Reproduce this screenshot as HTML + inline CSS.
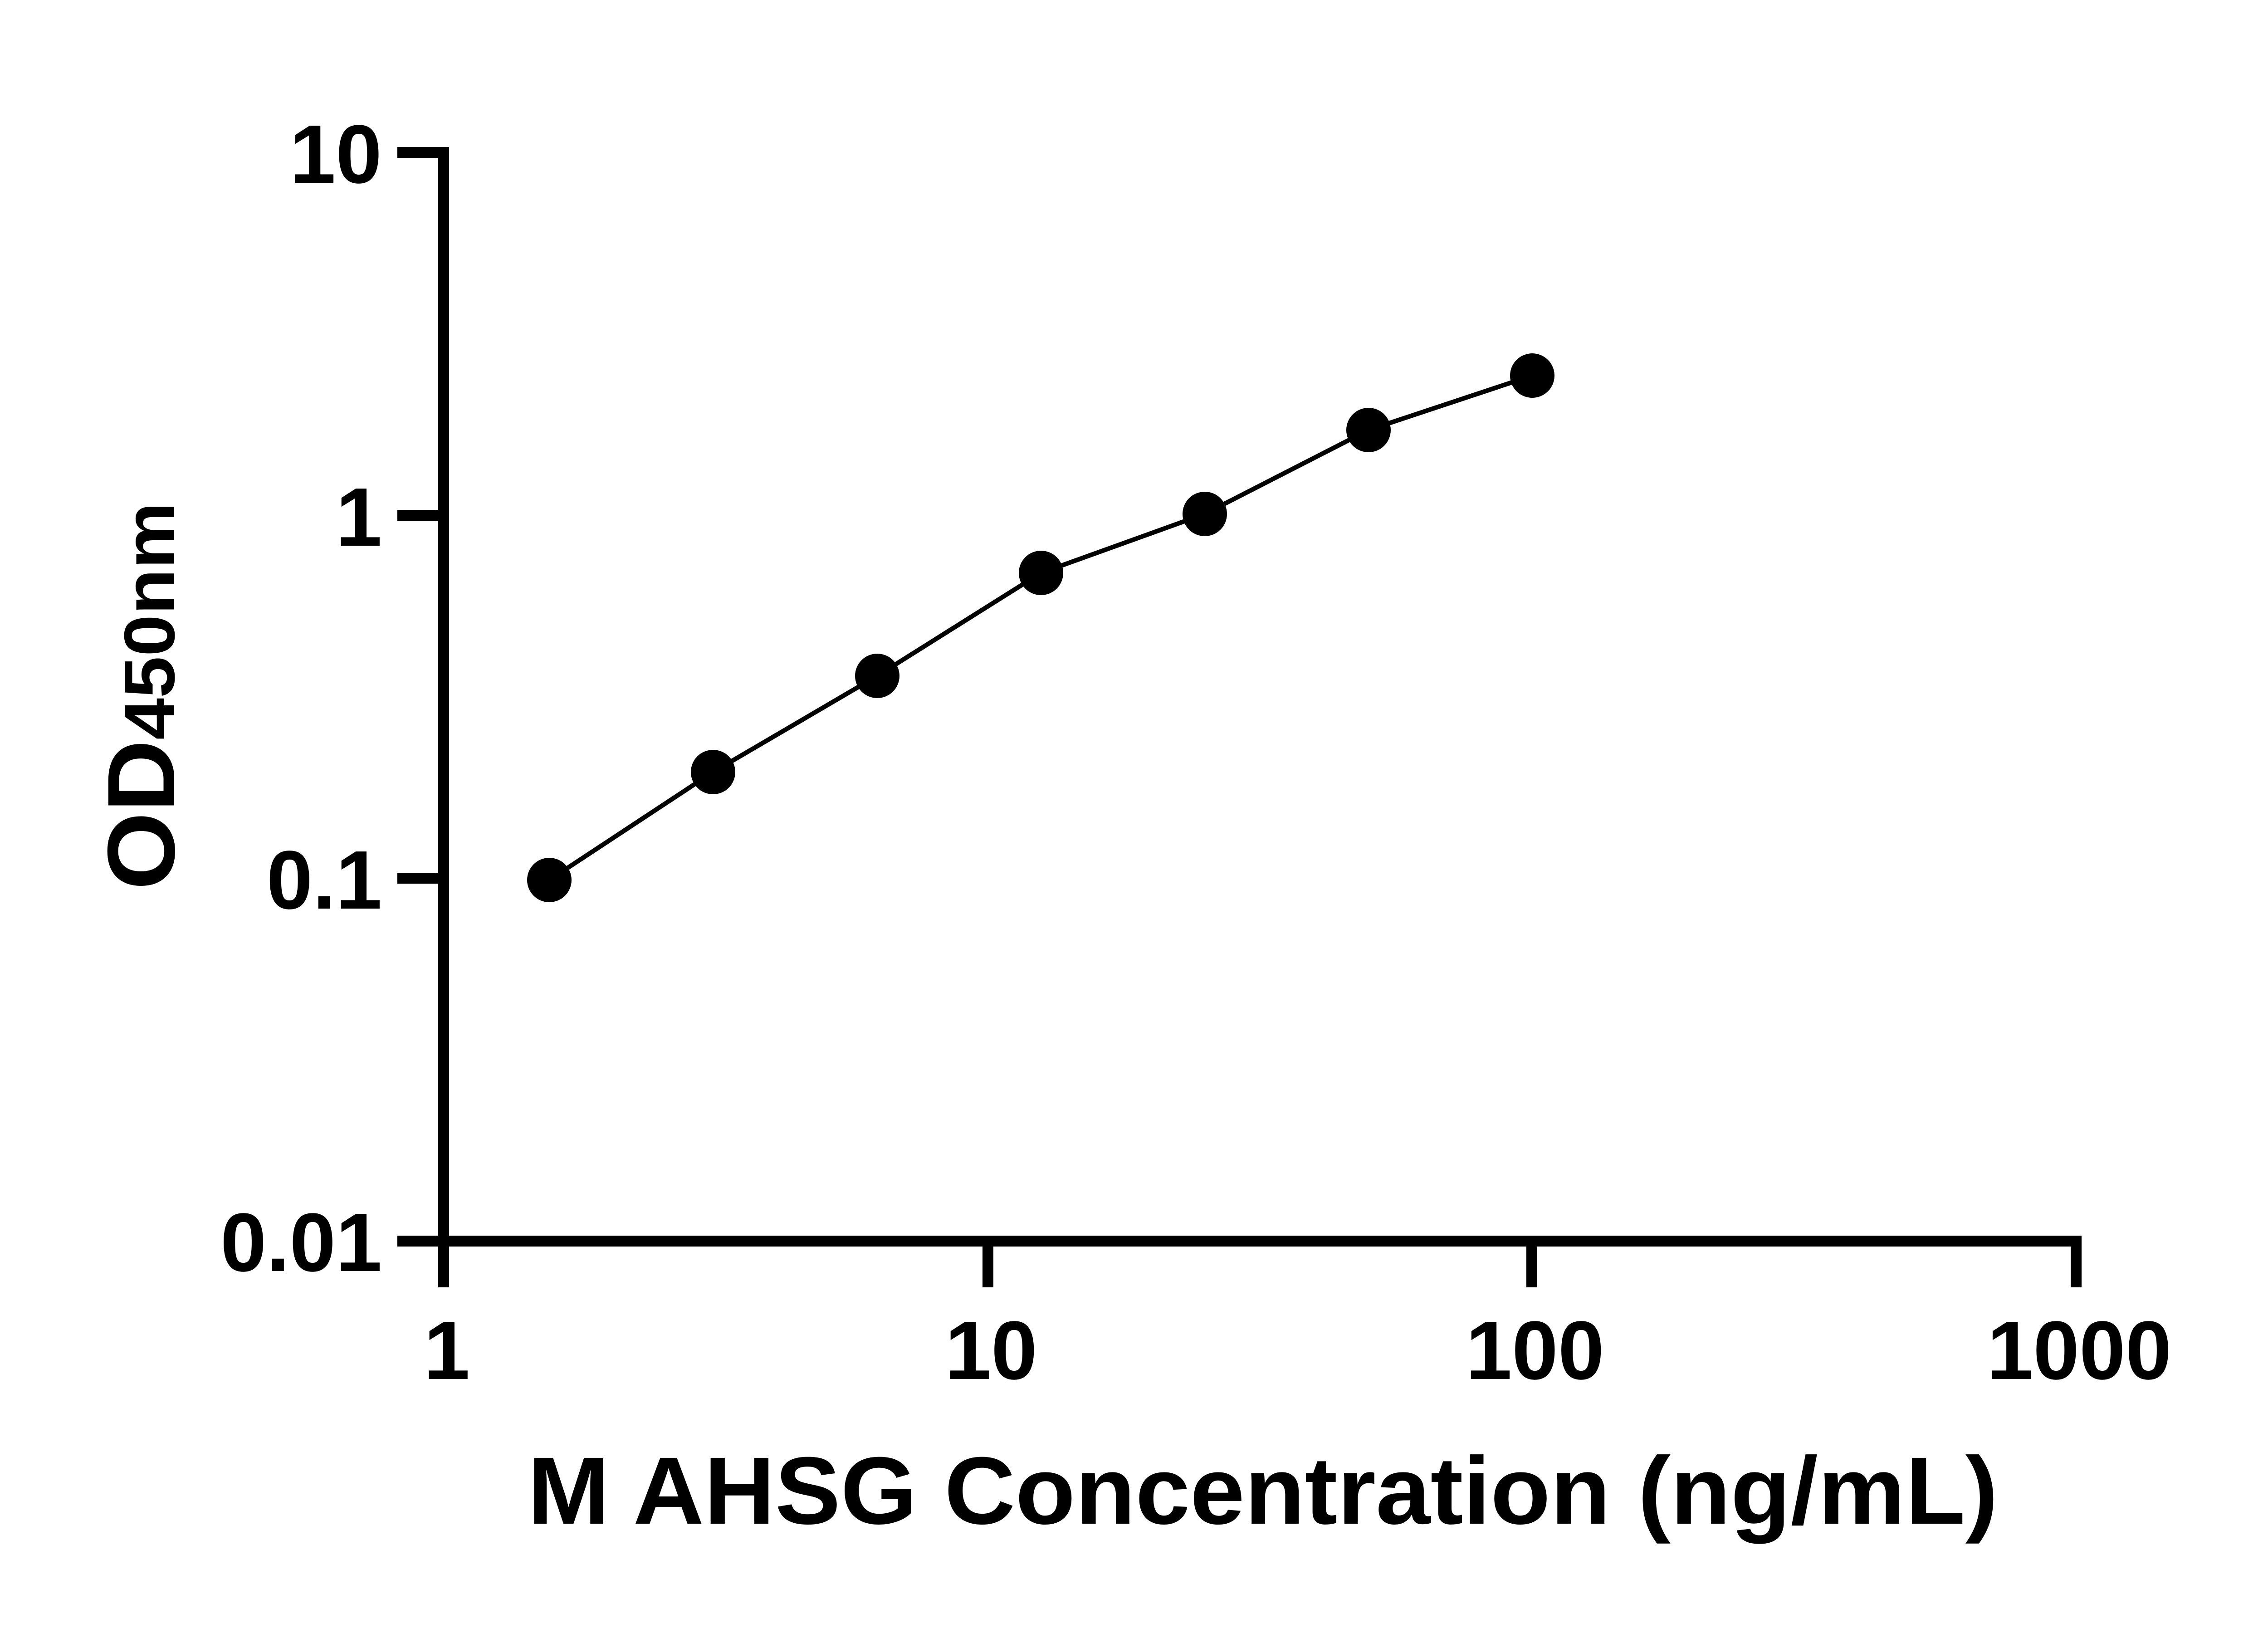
<!DOCTYPE html>
<html><head><style>html,body{margin:0;padding:0;background:#fff}svg{display:block}</style></head>
<body>
<svg width="5130" height="3600" viewBox="0 0 5130 3600" xmlns="http://www.w3.org/2000/svg">
<rect width="5130" height="3600" fill="#fff"/>
<g stroke="#000" stroke-width="24" fill="none" stroke-linecap="butt">
<polyline points="876,336 978,336 978,2838"/>
<polyline points="966,2736 4577,2736 4577,2838"/>
<line x1="876" y1="1136" x2="978" y2="1136"/>
<line x1="876" y1="1936" x2="978" y2="1936"/>
<line x1="876" y1="2736" x2="978" y2="2736"/>
<line x1="2178" y1="2736" x2="2178" y2="2838"/>
<line x1="3377" y1="2736" x2="3377" y2="2838"/>
</g>
<polyline fill="none" stroke="#000" stroke-width="10" points="1211,1940 1572,1702 1934,1490 2295,1263 2656,1133 3017,948 3378,828"/>
<g fill="#000">
<circle cx="1211" cy="1940" r="49"/>
<circle cx="1572" cy="1702" r="49"/>
<circle cx="1934" cy="1490" r="49"/>
<circle cx="2295" cy="1263" r="49"/>
<circle cx="2656" cy="1133" r="49"/>
<circle cx="3017" cy="948" r="49"/>
<circle cx="3378" cy="828" r="49"/>
</g>
<g font-family="Liberation Sans, sans-serif" font-weight="bold" font-size="183" fill="#000">
<text x="842" y="403" text-anchor="end">10</text>
<text x="842" y="1203" text-anchor="end">1</text>
<text x="842" y="2003" text-anchor="end">0.1</text>
<text x="842" y="2802" text-anchor="end">0.01</text>
<text x="985" y="3040" text-anchor="middle">1</text>
<text x="2185" y="3040" text-anchor="middle">10</text>
<text x="3384" y="3040" text-anchor="middle">100</text>
<text x="4584" y="3040" text-anchor="middle">1000</text>
<text x="1163" y="3359" font-size="211" textLength="3242" lengthAdjust="spacingAndGlyphs">M AHSG Concentration (ng/mL)</text>
<text transform="translate(384,1962) rotate(-90)" textLength="855" lengthAdjust="spacingAndGlyphs"><tspan font-size="211">OD</tspan><tspan font-size="158">450nm</tspan></text>
</g>
</svg>
</body></html>
